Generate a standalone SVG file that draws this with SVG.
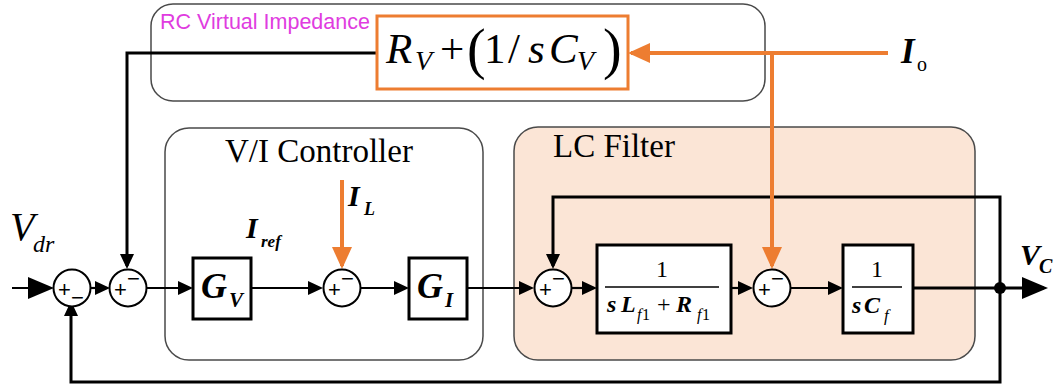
<svg xmlns="http://www.w3.org/2000/svg" width="1061" height="388" viewBox="0 0 1061 388">
  <style>
    .frame { fill: #ffffff; stroke: #4a4a4a; stroke-width: 1.5; }
    .frame-lc { fill: #fbe5d6; stroke: #4a4a4a; stroke-width: 1.5; }
    .block { fill: #ffffff; stroke: #000000; stroke-width: 3; }
    .sum { fill: #ffffff; stroke: #000000; stroke-width: 2; }
    .sig { fill: none; stroke: #000000; stroke-width: 2.2; }
    .fb { fill: none; stroke: #000000; stroke-width: 3; }
    .cur { fill: none; stroke: #ed7d31; stroke-width: 4; }
    .serif { font-family: "Liberation Serif", "Times New Roman", serif; fill: #000000; }
    .sign { font-family: "Liberation Sans", Arial, sans-serif; font-size: 22px; fill: #000000; text-anchor: middle; }
    .bi { font-weight: bold; font-style: italic; }
    .it { font-style: italic; }
    .title { font-family: "Liberation Serif", "Times New Roman", serif; font-size: 33px; fill: #000000; }
  </style>
  <defs>
    <marker id="arrow" markerUnits="userSpaceOnUse" markerWidth="16" markerHeight="16" refX="12" refY="7" orient="auto">
      <path d="M0,0 L15,7 L0,14 z" fill="#000000"/>
    </marker>
    <marker id="arrow-big" markerUnits="userSpaceOnUse" markerWidth="28" markerHeight="28" refX="22" refY="11" orient="auto">
      <path d="M0,0 L26,11 L0,22 z" fill="#000000"/>
    </marker>
    <marker id="arrow-orange" markerUnits="userSpaceOnUse" markerWidth="24" markerHeight="22" refX="19" refY="10" orient="auto">
      <path d="M0,0 L22,10 L0,20 z" fill="#ed7d31"/>
    </marker>
  </defs>

  <!-- grouping frames -->
  <g id="rc-virtual-impedance">
    <rect class="frame" x="151" y="4" width="614" height="97" rx="22"/>
    <text x="160" y="29" font-family="Liberation Sans, Arial, sans-serif" font-size="21.5" fill="#e03ce0">RC Virtual Impedance</text>
  </g>
  <g id="vi-controller">
    <rect class="frame" x="165" y="128" width="318" height="232" rx="24"/>
    <text class="title" x="225" y="162">V/I Controller</text>
  </g>
  <g id="lc-filter">
    <rect class="frame-lc" x="514" y="127" width="461" height="233" rx="24"/>
    <text class="title" x="553" y="157">LC Filter</text>
  </g>

  <!-- signal paths -->
  <g id="connectors">
    <path class="sig" d="M12,288 H50" stroke-width="4" marker-end="url(#arrow-big)"/>
    <path class="sig" d="M90,288 H107" marker-end="url(#arrow)"/>
    <path class="sig" d="M147,288 H190" marker-end="url(#arrow)"/>
    <path class="sig" d="M251,288 H320" marker-end="url(#arrow)"/>
    <path class="sig" d="M361,288 H406" marker-end="url(#arrow)"/>
    <path class="sig" d="M467,288 H531" marker-end="url(#arrow)"/>
    <path class="sig" d="M572,288 H594" marker-end="url(#arrow)"/>
    <path class="sig" d="M731,288 H750" marker-end="url(#arrow)"/>
    <path class="sig" d="M791,288 H840" marker-end="url(#arrow)"/>
    <path class="fb" d="M913,288 H1044" marker-end="url(#arrow-big)"/>
    <path class="fb" d="M1000,288 V197 H553 V266" marker-end="url(#arrow)"/>
    <path class="fb" d="M1000,288 V382 H71 V304" marker-end="url(#arrow)"/>
    <path class="fb" d="M377,53 H127 V266" marker-end="url(#arrow)"/>
    <path class="cur" d="M888,53 H631" marker-end="url(#arrow-orange)"/>
    <path class="cur" d="M772,53 V266" marker-end="url(#arrow-orange)"/>
    <path class="cur" d="M342,180 V266" marker-end="url(#arrow-orange)"/>
    <circle cx="1000" cy="288" r="6" fill="#000000"/>
  </g>

  <!-- virtual impedance block -->
  <g id="zv">
    <rect x="377" y="16" width="251" height="73" fill="#ffffff" stroke="#ed7d31" stroke-width="3"/>
    <text class="serif" font-size="43">
      <tspan class="it" x="386" y="63">R</tspan><tspan class="it" x="415" y="70" font-size="28">V</tspan><tspan x="440" y="63">+</tspan><tspan x="467" y="68" font-size="56">(</tspan><tspan x="484" y="63">1</tspan><tspan x="508" y="63">/</tspan><tspan class="it" x="528" y="63">s</tspan><tspan class="it" x="549" y="63">C</tspan><tspan class="it" x="577" y="70" font-size="28">V</tspan><tspan x="603" y="68" font-size="56">)</tspan>
    </text>
  </g>

  <!-- summing junctions: plus on the left, minus beside it -->
  <g id="sum-vdr">
    <circle class="sum" cx="72" cy="288" r="18.5"/>
    <text class="sign"><tspan x="64.5" y="297">+</tspan><tspan x="77.5" y="305">−</tspan></text>
  </g>
  <g id="sum-rc">
    <circle class="sum" cx="128" cy="288" r="18.5"/>
    <text class="sign"><tspan x="120.5" y="297">+</tspan><tspan x="133.5" y="286">−</tspan></text>
  </g>
  <g id="sum-il">
    <circle class="sum" cx="342" cy="288" r="18.5"/>
    <text class="sign"><tspan x="334.5" y="297">+</tspan><tspan x="347.5" y="286">−</tspan></text>
  </g>
  <g id="sum-vc">
    <circle class="sum" cx="553" cy="288" r="18.5"/>
    <text class="sign"><tspan x="545.5" y="297">+</tspan><tspan x="558.5" y="286">−</tspan></text>
  </g>
  <g id="sum-io">
    <circle class="sum" cx="772" cy="288" r="18.5"/>
    <text class="sign"><tspan x="764.5" y="297">+</tspan><tspan x="777.5" y="286">−</tspan></text>
  </g>

  <!-- controller blocks -->
  <g id="gv">
    <rect class="block" x="193" y="258" width="58" height="61"/>
    <text class="serif bi" font-size="36"><tspan x="201" y="298">G</tspan><tspan x="229" y="307" font-size="21">V</tspan></text>
  </g>
  <g id="gi">
    <rect class="block" x="409" y="258" width="58" height="61"/>
    <text class="serif bi" font-size="36"><tspan x="417" y="298">G</tspan><tspan x="445" y="307" font-size="21">I</tspan></text>
  </g>

  <!-- plant blocks -->
  <g id="inductor">
    <rect class="block" x="597" y="245" width="134" height="88"/>
    <text class="serif" font-size="24" text-anchor="middle" x="662" y="277">1</text>
    <line x1="605" y1="287" x2="719" y2="287" stroke="#000000" stroke-width="1.5"/>
    <text class="serif" font-size="24">
      <tspan class="bi" x="607" y="312">s</tspan><tspan class="bi" x="621" y="312">L</tspan><tspan class="it" x="637" y="320" font-size="16">f</tspan><tspan x="642" y="320" font-size="16">1</tspan><tspan x="657" y="312">+</tspan><tspan class="bi" x="676" y="312">R</tspan><tspan class="it" x="697" y="320" font-size="16">f</tspan><tspan x="702" y="320" font-size="16">1</tspan>
    </text>
  </g>
  <g id="capacitor">
    <rect class="block" x="843" y="245" width="70" height="88"/>
    <text class="serif" font-size="24" text-anchor="middle" x="877" y="277">1</text>
    <line x1="852" y1="287" x2="902" y2="287" stroke="#000000" stroke-width="1.5"/>
    <text class="serif" font-size="24">
      <tspan class="bi" x="852" y="313">s</tspan><tspan class="bi" x="864" y="313">C</tspan><tspan class="it" x="884" y="321" font-size="17">f</tspan>
    </text>
  </g>

  <!-- signal names -->
  <g id="signal-labels">
    <text class="serif it" font-size="40"><tspan x="10" y="240">V</tspan><tspan x="33" y="252" font-size="24">dr</tspan></text>
    <text class="serif bi" font-size="30"><tspan x="246" y="238">I</tspan><tspan x="261" y="247" font-size="17">ref</tspan></text>
    <text class="serif bi" font-size="30"><tspan x="348" y="206">I</tspan><tspan x="364" y="215" font-size="18">L</tspan></text>
    <text class="serif" font-size="35"><tspan class="bi" x="901" y="63">I</tspan><tspan x="917" y="71" font-size="20">o</tspan></text>
    <text class="serif bi" font-size="30"><tspan x="1020" y="265">V</tspan><tspan x="1039" y="273" font-size="20">C</tspan></text>
  </g>
</svg>
